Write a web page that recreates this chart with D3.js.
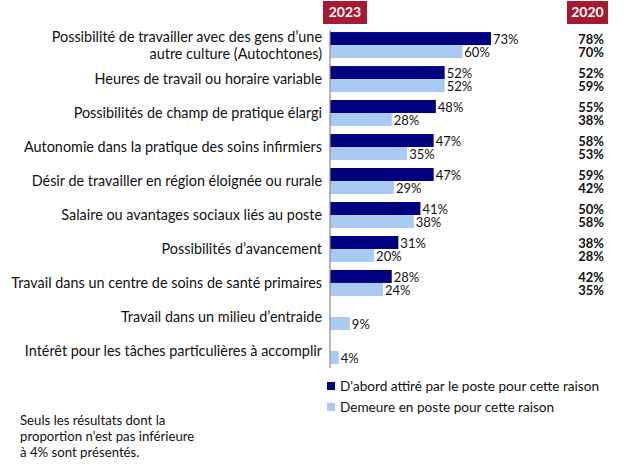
<!DOCTYPE html>
<html><head><meta charset="utf-8">
<script src="https://cdn.jsdelivr.net/npm/d3@7"></script>
<style>body{margin:0;background:#fff;}svg{display:block;font-family:Lato,"Open Sans",sans-serif;}</style>
</head><body>
<svg id="c" width="624" height="468"></svg>
<script>
const categories = [
  ["Possibilité de travailler avec des gens d’une","autre culture (Autochtones)"],
  ["Heures de travail ou horaire variable"],
  ["Possibilités de champ de pratique élargi"],
  ["Autonomie dans la pratique des soins infirmiers"],
  ["Désir de travailler en région éloignée ou rurale"],
  ["Salaire ou avantages sociaux liés au poste"],
  ["Possibilités d’avancement"],
  ["Travail dans un centre de soins de santé primaires"],
  ["Travail dans un milieu d’entraide"],
  ["Intérêt pour les tâches particulières à accomplir"]
];
const attracted2023 = [73,52,48,47,47,41,31,28,null,null];
const retained2023  = [60,52,28,35,29,38,20,24,9,4];
const attracted2020 = [78,52,55,58,59,50,38,42,null,null];
const retained2020  = [70,59,38,53,42,58,28,35,null,null];
const seriesNames = ["D'abord attiré par le poste pour cette raison","Demeure en poste pour cette raison"];
const headers = ["2023","2020"];
const footnote = ["Seuls les résultats dont la","proportion n’est pas inférieure","à 4% sont présentés."];

const colors = ["#000080","#A9CBF2"];
const red = "#A6192E";
const svg = d3.select("#c");
const x0 = 330;
const x = d3.scaleLinear().domain([0,100]).range([x0, x0+220.5]);
const y = d3.scaleBand().domain(d3.range(categories.length)).range([28,368]).paddingInner(0.235).paddingOuter(0.12);
const sub = d3.scaleBand().domain([0,1]).range([0,y.bandwidth()]);

const series = [attracted2023, retained2023];
const series2020 = [attracted2020, retained2020];
const vfs = 13;

// bars
series.forEach((vals,si)=>{
  const g = svg.append("g");
  vals.forEach((v,i)=>{
    if(v==null) return;
    const yy = y(i)+sub(si);
    g.append("rect").attr("x",x(0)).attr("y",yy).attr("width",x(v)-x(0)).attr("height",sub.bandwidth()).attr("fill",colors[si]);
    g.append("text").attr("x",x(v)+2).attr("y",yy+sub.bandwidth()/2+1).attr("dy","0.35em")
      .attr("font-size",vfs).attr("fill","#111").text(v+"%");
  });
});
// 2020 column
series2020.forEach((vals,si)=>{
  vals.forEach((v,i)=>{
    if(v==null) return;
    const yy = y(i)+sub(si);
    svg.append("text").attr("x",604).attr("y",yy+sub.bandwidth()/2+1).attr("dy","0.35em")
      .attr("text-anchor","end").attr("font-size",vfs).attr("font-weight","bold").attr("fill","#111").text(v+"%");
  });
});
// axis line
svg.append("line").attr("x1",x0).attr("x2",x0).attr("y1",30).attr("y2",368).attr("stroke","#888").attr("stroke-width",1.2);

// category labels
categories.forEach((lines,i)=>{
  const cy = y(i)+y.bandwidth()/2;
  const lh = 17;
  const t = svg.append("text").attr("text-anchor","end").attr("font-size",14.4).attr("fill","#111");
  lines.forEach((l,j)=>{
    t.append("tspan").attr("x",322).attr("y",cy+(j-(lines.length-1)/2)*lh).attr("dy","0.35em").text(l);
  });
});

// headers
[[323,367],[567,608]].forEach((r,i)=>{
  svg.append("rect").attr("x",r[0]).attr("y",1).attr("width",r[1]-r[0]).attr("height",23).attr("fill",red);
  svg.append("text").attr("x",(r[0]+r[1])/2).attr("y",12.5).attr("dy","0.35em").attr("text-anchor","middle")
    .attr("font-size",14).attr("font-weight","bold").attr("fill","#fff").text(headers[i]);
});

// legend
seriesNames.forEach((n,i)=>{
  const ly = 386 + i*21;
  svg.append("rect").attr("x",327).attr("y",ly-4).attr("width",8).attr("height",8).attr("fill",colors[i]);
  svg.append("text").attr("x",340).attr("y",ly).attr("dy","0.35em").attr("font-size",13.6).attr("fill","#111").text(n);
});

// footnote
footnote.forEach((l,i)=>{
  svg.append("text").attr("x",20).attr("y",420+i*16).attr("dy","0.35em").attr("font-size",13.2).attr("fill","#111").text(l);
});
</script>
</body></html>
